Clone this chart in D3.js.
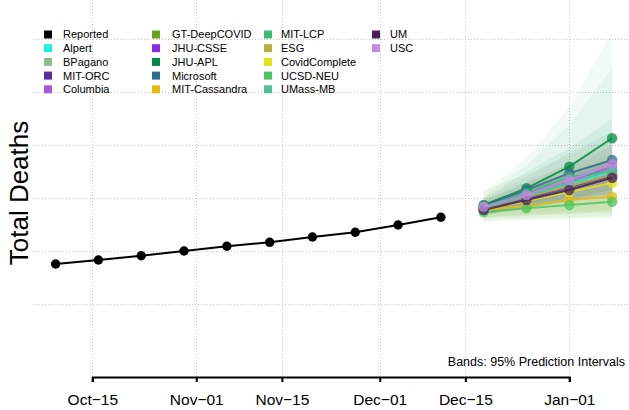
<!DOCTYPE html>
<html><head><meta charset="utf-8">
<script src="https://cdn.jsdelivr.net/npm/d3@7"></script>
<style>body{margin:0;background:#fff}svg{display:block;font-family:"Liberation Sans",Arial,Helvetica,sans-serif}</style>
</head><body>
<svg id="c" width="629" height="410"></svg>
<script>
// ---- data ----
const reportedDates = ["2020-10-09","2020-10-16","2020-10-23","2020-10-30","2020-11-06","2020-11-13","2020-11-20","2020-11-27","2020-12-04","2020-12-11"];
const reportedValues = [2755,2830,2911,3000,3089,3164,3264,3353,3491,3636];
const forecastDates = ["2020-12-18","2020-12-25","2021-01-01","2021-01-08"];
const models = ["Alpert","BPagano","MIT-ORC","Columbia","GT-DeepCOVID","JHU-CSSE","JHU-APL","Microsoft","MIT-Cassandra","MIT-LCP","ESG","CovidComplete","UCSD-NEU","UMass-MB","UM","USC"];
const modelColors = ["#20f2df","#8fbc8f","#5a2aa0","#a95ad8","#6ba31e","#8a2be2","#008a44","#2e6e8e","#e6b80e","#3cb874","#b3b53a","#dde31a","#50c464","#4ebf9b","#4a1f5c","#c08ae0"];
const pointValues = [
  [3812,4038,4264,4491],
  [3793,4019,4227,4453],
  [3774,3981,4189,4415],
  [3830,4076,4321,4585],
  [3793,4000,4189,4378],
  [3793,4000,4208,4434],
  [3868,4183,4591,5127],
  [3849,4151,4466,4717],
  [3774,3849,3962,4025],
  [3830,4095,4397,4510],
  [3812,4019,4227,4434],
  [3774,3943,4113,4283],
  [3730,3806,3868,3930],
  [3812,4038,4283,4529],
  [3774,3962,4151,4383],
  [3836,4057,4340,4636]
];
const lowerValues = [
  [3700,3850,4000,4150],
  [3690,3830,3960,4100],
  [3680,3820,3950,4080],
  [3700,3860,4000,4150],
  [3640,3680,3720,3760],
  [3690,3820,3960,4080],
  [3698,3811,3962,4151],
  [3720,3900,4080,4250],
  [3690,3720,3760,3790],
  [3585,3623,3642,3660],
  [3620,3660,3700,3740],
  [3560,3590,3610,3640],
  [3640,3680,3700,3720],
  [3547,3585,3604,3642],
  [3680,3800,3930,4050],
  [3720,3880,4060,4230]
];
const upperValues = [
  [3920,4250,4550,4850],
  [3900,4200,4500,4800],
  [3880,4150,4450,4750],
  [3950,4300,4650,5000],
  [3950,4300,4650,5000],
  [3900,4180,4450,4750],
  [4000,4491,4944,5491],
  [3980,4400,4850,5250],
  [3860,4000,4150,4300],
  [4038,4623,5378,6453],
  [4150,4450,4800,5150],
  [3980,4250,4550,4850],
  [3830,3950,4050,4150],
  [4113,4755,5717,7133],
  [3880,4150,4400,4700],
  [3950,4250,4600,4950]
];
const xTickDates = ["2020-10-15","2020-11-01","2020-11-15","2020-12-01","2020-12-15","2021-01-01"];
const xTickLabels = ["Oct\u221215","Nov\u221201","Nov\u221215","Dec\u221201","Dec\u221215","Jan\u221201"];
const yGridValues = [2000,3000,4000,5000,6000,7000];
const legendNames = ["Reported"].concat(models);
const legendColors = ["#000000"].concat(modelColors);

// ---- chart ----
const P = d3.utcParse("%Y-%m-%d");
const svg = d3.select("#c");
const x = d3.scaleUtc().domain([P("2020-10-15"), P("2021-01-01")]).range([92.3, 569.3]);
const y = d3.scaleLinear().domain([2000, 7000]).range([304, 39]);

// grid
const grid = svg.append("g").attr("stroke", "#c4c4c4").attr("stroke-width", 1).attr("stroke-dasharray", "1,2");
grid.selectAll("line.h").data(yGridValues).join("line").attr("class","h")
  .attr("x1", 33).attr("x2", 629).attr("y1", d => Math.round(y(d))+0.5).attr("y2", d => Math.round(y(d))+0.5);
grid.selectAll("line.v").data(xTickDates).join("line").attr("class","v")
  .attr("x1", d => Math.round(x(P(d)))+0.5).attr("x2", d => Math.round(x(P(d)))+0.5).attr("y1", 0).attr("y2", 377);

// bands
const fd = forecastDates.map(P);
const area = d3.area().x((d,i) => x(fd[i])).y0(d => y(d[0])).y1(d => y(d[1]));
svg.append("g").selectAll("path").data(models).join("path")
  .attr("d", (m,k) => area(lowerValues[k].map((lo,i) => [lo, upperValues[k][i]])))
  .attr("fill", (m,k) => modelColors[k]).attr("fill-opacity", 0.075);

// reported
const line = d3.line().x(d => x(d[0])).y(d => y(d[1]));
const rep = reportedDates.map((d,i) => [P(d), reportedValues[i]]);
svg.append("path").attr("d", line(rep)).attr("fill","none").attr("stroke","#000").attr("stroke-width",2);
svg.append("g").selectAll("circle").data(rep).join("circle")
  .attr("cx", d => x(d[0])).attr("cy", d => y(d[1])).attr("r", 4.7).attr("fill","#000");

// forecasts
models.forEach((m,k) => {
  const pts = fd.map((d,i) => [d, pointValues[k][i]]);
  const g = svg.append("g");
  g.append("path").attr("d", line(pts)).attr("fill","none").attr("stroke", modelColors[k]).attr("stroke-width",2).attr("stroke-opacity",0.85);
  g.selectAll("circle").data(pts).join("circle")
    .attr("cx", d => x(d[0])).attr("cy", d => y(d[1])).attr("r", 5.2)
    .attr("fill", modelColors[k]).attr("fill-opacity", 0.75);
});

// x axis
const ax = svg.append("g").attr("transform","translate(0,377)")
  .call(d3.axisBottom(x).tickValues(xTickDates.map(P)).tickSizeOuter(0).tickSize(5)
    .tickFormat((d,i) => xTickLabels[i]));
ax.select(".domain").attr("stroke-width",2).attr("stroke","#000");
ax.selectAll(".tick line").attr("stroke-width",2).attr("stroke","#000");
ax.selectAll(".tick text").attr("y",28).attr("dy","0").attr("font-size","15.5px")
  .attr("font-family","Liberation Sans, Arial, sans-serif").attr("fill","#000");

// y label
svg.append("text").attr("transform","translate(28,193) rotate(-90)").attr("text-anchor","middle")
  .attr("font-size","26px").attr("fill","#000").text("Total Deaths");

// note
svg.append("text").attr("x",625).attr("y",366).attr("text-anchor","end").attr("font-size","12.5px")
  .attr("fill","#000").text("Bands: 95% Prediction Intervals");

// legend
const colX = [44,152,264,372], txtX = [63,172,281,390];
const lg = svg.append("g").selectAll("g").data(legendNames).join("g")
  .attr("transform",(d,i) => `translate(${colX[Math.floor(i/5)]},${34.5 + (i%5)*13.7})`);
lg.append("rect").attr("x",0).attr("y",-4).attr("width",8).attr("height",8).attr("fill",(d,i) => legendColors[i]);
lg.append("text").attr("x",(d,i) => txtX[Math.floor(i/5)] - colX[Math.floor(i/5)]).attr("y",0).attr("dy","0.36em")
  .attr("font-size","11px").attr("fill","#000").text(d => d);
</script>
</body></html>
